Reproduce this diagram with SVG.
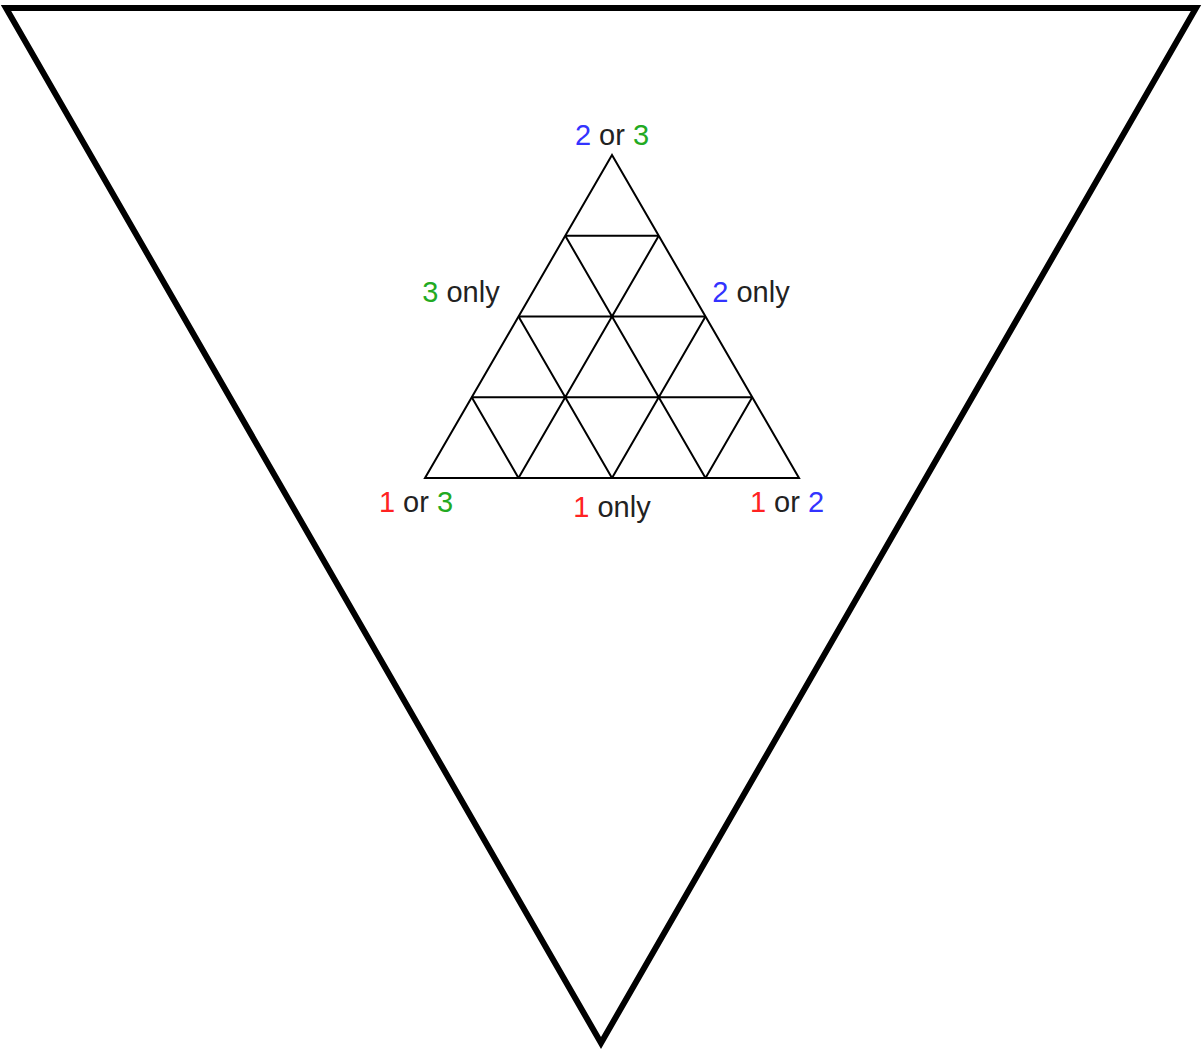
<svg xmlns="http://www.w3.org/2000/svg" width="1203" height="1053" viewBox="0 0 1203 1053">
<style>
.big{fill:#fff;stroke:#000;stroke-width:6;stroke-linejoin:miter;stroke-miterlimit:20}
.grid{fill:none;stroke:#000;stroke-width:2}
text{font-family:"Liberation Sans",Arial,sans-serif;font-size:29px;fill:#222;text-anchor:middle}
.r{fill:#f22}.b{fill:#33f}.g{fill:#2a2}
</style>
<rect width="1203" height="1053" fill="#fff"/>
<g id="outer"><polygon class="big" points="6,8 1196,8 601,1043"/></g>
<g id="connectors">
<polygon class="grid" points="612,155 425,478 799,478"/>
<path class="grid" d="M565.25,235.75H658.75M518.5,316.5H705.5M471.75,397.25H752.25M518.5,478L658.75,235.75M612,478L705.5,316.5M705.5,478L752.25,397.25M705.5,478L565.25,235.75M612,478L518.5,316.5M518.5,478L471.75,397.25"/>
</g>
<g id="labels">
<text x="612" y="145"><tspan class="b">2</tspan> or <tspan class="g">3</tspan></text>
<text x="461" y="302"><tspan class="g">3</tspan> only</text>
<text x="751" y="302"><tspan class="b">2</tspan> only</text>
<text x="416" y="512"><tspan class="r">1</tspan> or <tspan class="g">3</tspan></text>
<text x="612" y="517"><tspan class="r">1</tspan> only</text>
<text x="787" y="512"><tspan class="r">1</tspan> or <tspan class="b">2</tspan></text>
</g>
</svg>
